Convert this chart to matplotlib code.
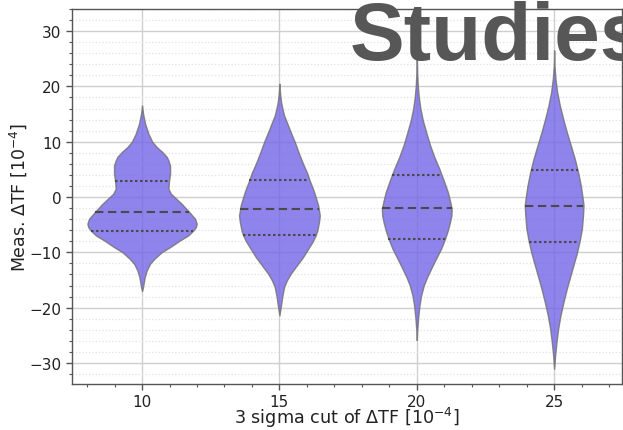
import numpy as np
import matplotlib
matplotlib.use("Agg")
import matplotlib.pyplot as plt
from matplotlib.ticker import MultipleLocator

# ---- data ----
positions = [10, 15, 20, 25]

# density profiles: levels (y) and half-widths (x units), bottom to top
v1_y = [-17.0, -16.28, -14.47, -13.27, -12.06, -11.16, -9.95, -9.05, -7.84, -6.94, -6.03, -5.42,
        -4.82, -3.92, -2.66, -1.21, 0.0, 0.60, 1.50, 2.89, 4.21, 5.72, 6.62, 7.25, 8.14, 9.06,
        9.96, 11.46, 13.27, 15.07, 16.57]
v1_w = [0.0, 0.036, 0.097, 0.17, 0.29, 0.45, 0.72, 1.02, 1.38, 1.68, 1.87, 1.96,
        1.99, 1.93, 1.71, 1.44, 1.18, 1.05, 0.96, 0.98, 1.02, 1.02, 0.96, 0.90, 0.74, 0.53,
        0.376, 0.23, 0.11, 0.036, 0.0]

v2_y = [-21.4, -19.89, -17.78, -16.28, -15.07, -13.87, -12.66, -10.85, -9.34, -8.14, -6.93,
        -6.03, -4.52, -3.32, -2.41, -1.51, 0.0, 1.51, 3.0, 4.21, 6.02, 7.83, 9.94, 11.75,
        13.26, 14.76, 15.97, 17.17, 18.68, 20.49]
v2_w = [0.0, 0.048, 0.11, 0.17, 0.27, 0.41, 0.59, 0.86, 1.05, 1.2, 1.32,
        1.38, 1.44, 1.47, 1.44, 1.41, 1.32, 1.22, 1.10, 1.02, 0.86, 0.715, 0.56, 0.41,
        0.29, 0.17, 0.11, 0.061, 0.024, 0.0]

v3_y = [-25.9, -24.4, -22.0, -19.59, -17.78, -15.97, -14.47, -12.96, -11.15, -9.34, -7.53,
        -6.03, -4.52, -3.32, -2.11, -0.91, 0.90, 3.0, 5.12, 7.23, 9.34, 11.75, 13.86, 15.97,
        18.08, 20.2, 22.6, 26.0]
v3_w = [0.0, 0.012, 0.048, 0.097, 0.158, 0.255, 0.376, 0.52, 0.70, 0.885, 1.03,
        1.13, 1.21, 1.26, 1.27, 1.22, 1.13, 0.98, 0.82, 0.64, 0.485, 0.34, 0.22, 0.133,
        0.073, 0.036, 0.012, 0.0]

v4_y = [-31.05, -28.64, -26.23, -23.82, -21.40, -18.99, -16.58, -14.47, -12.36, -10.25, -8.14,
        -5.73, -3.32, -1.51, -0.30, 2.11, 4.52, 6.93, 9.34, 11.75, 14.16, 16.57, 18.98,
        21.39, 23.80, 26.52]
v4_w = [0.0, 0.036, 0.085, 0.145, 0.23, 0.34, 0.46, 0.58, 0.70, 0.82, 0.92,
        1.01, 1.05, 1.07, 1.04, 0.97, 0.87, 0.75, 0.606, 0.46, 0.327, 0.206, 0.109,
        0.048, 0.012, 0.0]

q1 = [-6.1, -6.8, -7.5, -8.1]
medians = [-2.7, -2.1, -2.0, -1.7]
q3 = [2.9, 3.1, 3.9, 4.9]

xticks = [10, 15, 20, 25]
yticks = [-30, -20, -10, 0, 10, 20, 30]

profiles_y = [v1_y, v2_y, v3_y, v4_y]
profiles_w = [v1_w, v2_w, v3_w, v4_w]

# ---- figure ----
fig = plt.figure(figsize=(6.23, 4.31), dpi=100)
ax = fig.add_axes([72 / 623, 46 / 431, 550 / 623, 375 / 431])

stats = []
widths = []
for ys, ws, med in zip(profiles_y, profiles_w, medians):
    ys = np.asarray(ys, float)
    ws = np.asarray(ws, float)
    stats.append(dict(coords=ys, vals=ws, mean=med, median=med,
                      min=ys.min(), max=ys.max()))
    widths.append(2 * ws.max())

parts = ax.violin(stats, positions=positions, widths=widths,
                  showmeans=False, showextrema=False, showmedians=False)
for body in parts['bodies']:
    body.set_facecolor('#7364e8')
    body.set_edgecolor('#707070')
    body.set_linewidth(1.0)
    body.set_alpha(0.8)
    body.set_zorder(3)

line_col = '#4a4a4a'
for pos, ys, ws, a, m, b in zip(positions, profiles_y, profiles_w, q1, medians, q3):
    for val, ls in ((a, (0, (1.2, 1.2))), (m, (0, (4, 2.2))), (b, (0, (1.2, 1.2)))):
        hw = np.interp(val, ys, ws)
        ax.hlines(val, pos - hw, pos + hw, colors=line_col, linestyles=[ls],
                  linewidth=1.5, zorder=4)

ax.set_xlim(7.45, 27.47)
ax.set_ylim(-33.8, 34.0)
ax.set_xticks(xticks)
ax.set_yticks(yticks)
ax.xaxis.set_minor_locator(MultipleLocator(1))
ax.yaxis.set_minor_locator(MultipleLocator(2))

ax.grid(True, which='major', color='#cfcfcf', linewidth=1.0, zorder=0)
ax.grid(True, which='minor', axis='y', color='#e2e2e2', linestyle=':', linewidth=0.9, zorder=0)
ax.set_axisbelow(True)

for sp in ax.spines.values():
    sp.set_color('#555555')
    sp.set_linewidth(1.0)
ax.tick_params(which='major', direction='out', length=4, width=1, color='#555555',
               labelsize=11, labelcolor='#222222')
ax.tick_params(which='minor', direction='out', length=2.5, width=0.8, color='#555555')

ax.set_xlabel('3 sigma cut of ΔTF [$10^{-4}$]', fontsize=12.7, color='#222222', va='baseline')
ax.xaxis.set_label_coords(0.5, (385 - 424) / 375)
ax.set_ylabel('Meas. ΔTF [$10^{-4}$]', fontsize=12.5, color='#222222')
ax.yaxis.set_label_coords((29 - 72) / 550, 0.5)

fig.text(350 / 623, 1 - 60 / 431, 'Studies', fontsize=59, fontweight='bold',
         color='#575757', family='Liberation Sans', va='baseline', ha='left')

fig.savefig('out.png', dpi=100)
